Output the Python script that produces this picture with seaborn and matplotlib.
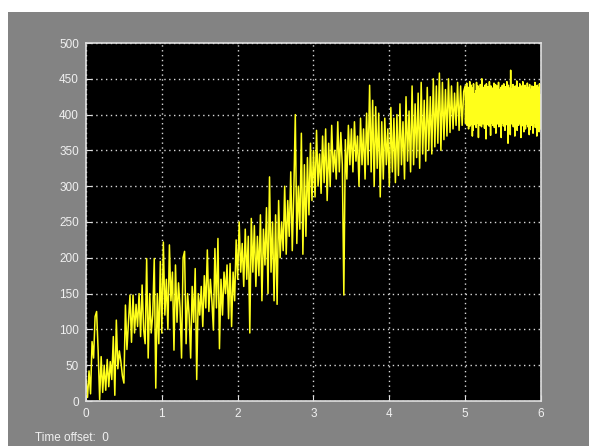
import numpy as np
import pandas as pd
import matplotlib
matplotlib.use("Agg")
import matplotlib.pyplot as plt
import seaborn as sns
from matplotlib.patches import Rectangle

# ---- data ----
dt_coarse = 0.02   # sample step for 0..5 s
dt_fine = 0.005    # sample step for 5..6 s

signal_0_to_5 = [
    30, 5, 42, 10, 83, 60, 118, 125, 70, 2,
    62, 12, 50, 15, 58, 20, 55, 30, 90, 8,
    113, 45, 70, 55, 35, 25, 134, 72, 110, 148,
    82, 148, 95, 135, 104, 150, 90, 162, 100, 80,
    199, 60, 150, 95, 120, 199, 18, 150, 80, 195,
    95, 222, 120, 170, 100, 218, 140, 180, 71, 190,
    110, 165, 130, 60, 200, 209, 80, 150, 120, 60,
    160, 110, 185, 30, 150, 120, 160, 104, 175, 130,
    211, 125, 170, 140, 99, 213, 130, 227, 73, 170,
    120, 180, 150, 190, 115, 192, 104, 180, 140, 225,
    170, 250, 180, 220, 160, 240, 170, 230, 95, 255,
    180, 245, 160, 230, 175, 260, 140, 240, 190, 270,
    150, 313, 180, 250, 140, 260, 135, 280, 200, 250,
    210, 300, 205, 280, 230, 320, 210, 290, 400, 220,
    300, 240, 374, 205, 330, 230, 340, 260, 360, 280,
    350, 285, 378, 300, 345, 290, 370, 305, 380, 280,
    360, 300, 385, 320, 350, 310, 390, 320, 375, 330,
    148, 365, 310, 385, 330, 380, 320, 390, 335, 370,
    300, 395, 330, 380, 310, 402, 330, 441, 320, 420,
    300, 411, 325, 402, 285, 390, 310, 395, 330, 380,
    300, 410, 320, 395, 305, 400, 315, 415, 330, 390,
    310, 425, 335, 405, 320, 440, 330, 415, 340, 430,
    325, 445, 345, 420, 335, 438, 350, 425, 345, 450,
    355, 440, 360, 458, 350, 445, 365, 435, 370, 450,
    375, 440, 380, 430, 385, 445, 378, 440, 385, 432,
]

signal_5_to_6 = [
    440, 388, 436, 392, 444, 385, 430, 395, 438, 380,
    432, 390, 446, 384, 420, 398, 441, 387, 435, 370,
    437, 378, 443, 396, 429, 386, 425, 391, 433, 382,
    445, 394, 431, 388, 440, 368, 436, 397, 418, 385,
    442, 390, 434, 383, 450, 392, 430, 387, 438, 395,
    429, 381, 441, 389, 422, 366, 443, 393, 432, 386,
    439, 397, 428, 384, 446, 390, 434, 371, 440, 388,
    431, 392, 437, 385, 420, 396, 444, 382, 436, 389,
    442, 374, 433, 394, 440, 387, 424, 391, 445, 383,
    435, 390, 427, 386, 438, 368, 432, 395, 441, 388,
    428, 384, 443, 391, 436, 378, 439, 393, 421, 386,
    446, 389, 433, 360, 441, 385, 428, 392, 437, 372,
    462, 390, 435, 387, 423, 394, 442, 383, 436, 389,
    429, 370, 440, 392, 434, 386, 447, 378, 432, 391,
    438, 385, 419, 393, 443, 388, 433, 368, 440, 390,
    431, 392, 446, 384, 436, 376, 429, 396, 441, 380,
    437, 387, 422, 391, 444, 383, 430, 394, 438, 372,
    442, 379, 435, 390, 426, 385, 440, 392, 433, 374,
    439, 388, 431, 395, 445, 382, 420, 389, 430, 370,
    441, 393, 434, 386, 438, 376, 443, 391, 428, 380,
]

x_ticks = [0, 1, 2, 3, 4, 5, 6]
y_ticks = [0, 50, 100, 150, 200, 250, 300, 350, 400, 450, 500]
footer_text = "Time offset:  0"

# ---- build the sampled series ----
t_coarse = np.arange(len(signal_0_to_5)) * dt_coarse
t_fine = 5.0 + np.arange(len(signal_5_to_6)) * dt_fine
df = pd.DataFrame({
    "t": np.concatenate([t_coarse, t_fine]),
    "v": np.concatenate([signal_0_to_5, signal_5_to_6]),
})

W, H = 589, 446
fig = plt.figure(figsize=(W / 100, H / 100), dpi=100)
fig.patch.set_facecolor("#838383")
# white strips at the top and left edge of the screenshot
fig.patches.append(Rectangle((0, (H - 12) / H), 1, 12 / H,
                             transform=fig.transFigure, facecolor="white",
                             edgecolor="none", zorder=-5))
fig.patches.append(Rectangle((0, 0), 8 / W, 1,
                             transform=fig.transFigure, facecolor="white",
                             edgecolor="none", zorder=-5))

ax = fig.add_axes([86 / W, (H - 401) / H, (541 - 86) / W, (401 - 43) / H])
ax.set_facecolor("black")

sns.lineplot(data=df, x="t", y="v", ax=ax, color="#ffff1a", linewidth=1.1,
             estimator=None, sort=False, legend=False)

ax.set_xlim(0, 6)
ax.set_ylim(0, 500)
ax.set_xticks(x_ticks)
ax.set_yticks(y_ticks)
ax.set_xticklabels([str(v) for v in x_ticks])
ax.set_yticklabels([str(v) for v in y_ticks])
ax.set_xlabel("")
ax.set_ylabel("")

ax.grid(True, color="#d8d8d8", linestyle=(0, (1, 2.5)), linewidth=1.0)
ax.set_axisbelow(True)
for s in ax.spines.values():
    s.set_color("#e0e0e0")
    s.set_linewidth(1.2)
ax.tick_params(direction="in", length=4, color="#e0e0e0", labelcolor="#f0f0f0",
               labelsize=8.5, pad=5)
for lab in ax.get_xticklabels() + ax.get_yticklabels():
    lab.set_family("Liberation Sans")

fig.text(35 / W, 1 - 438 / H, footer_text, color="#f0f0f0", fontsize=8.5,
         family="Liberation Sans", va="center", ha="left")

fig.savefig("out.png", dpi=100, facecolor=fig.get_facecolor())
